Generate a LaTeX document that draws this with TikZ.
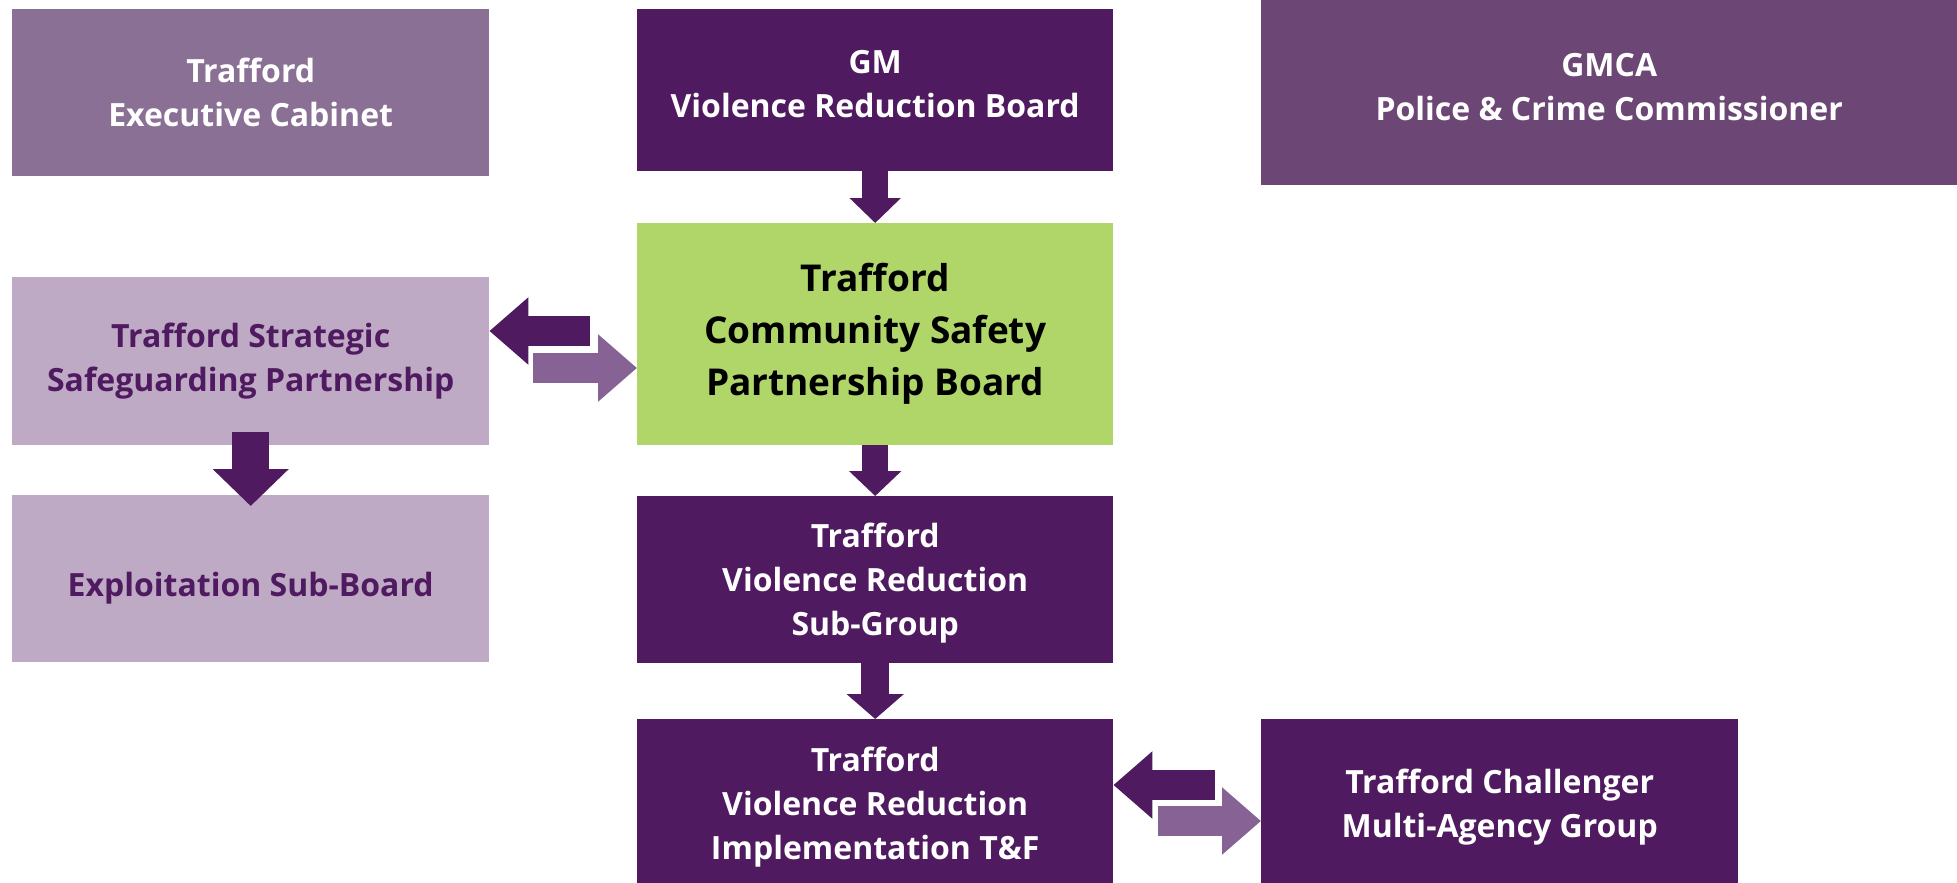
\documentclass[tikz,border=0pt]{standalone}
\usepackage{fontspec}
\setmainfont{Open Sans}
\usetikzlibrary{arrows.meta}
\definecolor{cabinet}{HTML}{8B7096}
\definecolor{deep}{HTML}{4F1A5F}
\definecolor{gmca}{HTML}{6C4776}
\definecolor{pale}{HTML}{BFAAC6}
\definecolor{lime}{HTML}{B0D66A}
\definecolor{mauve}{HTML}{866394}

\begin{document}
\begin{tikzpicture}[x=1pt,y=-1pt,
  box/.style={anchor=north west,inner sep=0pt,align=center,text=white,
    font=\fontsize{32}{44}\selectfont\bfseries},
  downarrow/.style 2 args={draw=deep,line width=#1,
    -{Triangle[width=#2,length=25pt]}},
  sidearrow/.style={line width=30pt,-{Triangle[width=65pt,length=39pt]}}]
\useasboundingbox (0,0) rectangle (1957,883);
\node [box,fill=cabinet,minimum width=477pt,minimum height=167pt] (exec) at (12,9) {Trafford\\Executive Cabinet};
\node [box,fill=deep,minimum width=476pt,minimum height=162pt,text depth=12pt] (gm) at (637,9) {GM\\Violence Reduction Board};
\node [box,fill=gmca,minimum width=696pt,minimum height=185pt,text depth=12pt] (gmca) at (1261,0) {GMCA\\Police \& Crime Commissioner};
\node [box,fill=pale,text=deep,minimum width=477pt,minimum height=168pt] (strat) at (12,277) {Trafford Strategic\\Safeguarding Partnership};
\node [box,fill=lime,text=black,minimum width=476pt,minimum height=222pt,
  font=\fontsize{37}{52}\selectfont\bfseries] (csp) at (637,223) {Trafford\\Community Safety\\Partnership Board};
\node [box,fill=pale,text=deep,minimum width=477pt,minimum height=167pt,text height=44pt] (expl) at (12,495) {Exploitation Sub-Board};
\node [box,fill=deep,minimum width=476pt,minimum height=167pt,text depth=0pt] (sub) at (637,496) {Trafford\\Violence Reduction\\Sub-Group};
\node [box,fill=deep,minimum width=476pt,minimum height=168pt,text depth=0pt] (impl) at (637,719) {Trafford\\Violence Reduction\\Implementation T\&F};
\node [box,fill=deep,minimum width=477pt,minimum height=168pt,text depth=0pt] (chal) at (1261,719) {Trafford Challenger\\Multi-Agency Group};
\draw [downarrow={26pt}{50pt}] (gm.south) -- (csp.north);
\draw [downarrow={26pt}{51pt}] (csp.south) -- (sub.north);
\draw [downarrow={28pt}{56pt}] (sub.south) -- (impl.north);
\draw [draw=deep,line width=37pt,-{Triangle[width=74pt,length=37pt]},
  shorten <=-13pt,shorten >=-11pt] (strat.south) -- (expl.north);
\coordinate (sl) at (590,331);
\coordinate (sr) at (533,368);
\draw [sidearrow,draw=deep] (sl) -- (strat.east |- sl);
\draw [sidearrow,draw=mauve] (sr) -- (csp.west |- sr);
\coordinate (il) at (1215,785);
\coordinate (ir) at (1158,821);
\draw [sidearrow,draw=deep] (il) -- (impl.east |- il);
\draw [sidearrow,draw=mauve] (ir) -- (chal.west |- ir);
\end{tikzpicture}
\end{document}
